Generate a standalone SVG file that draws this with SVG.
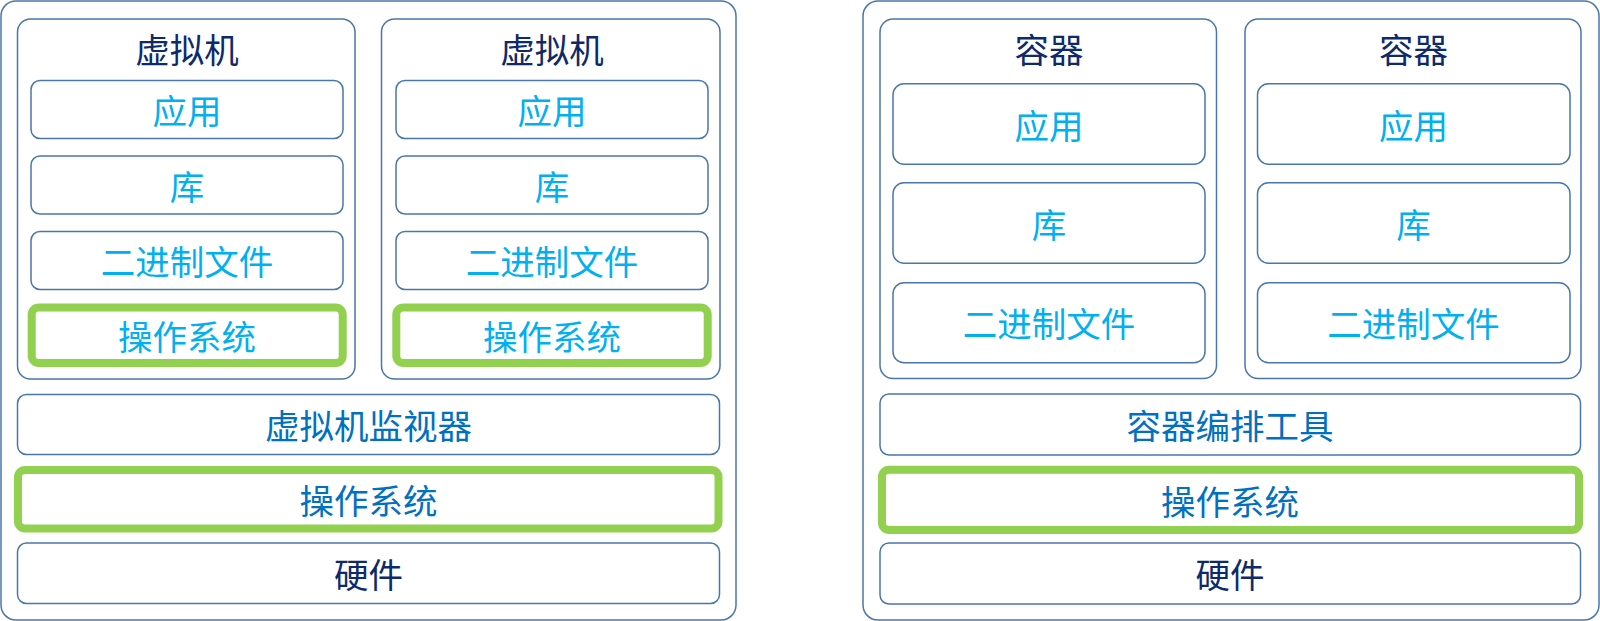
<svg xmlns="http://www.w3.org/2000/svg" width="1600" height="621" viewBox="0 0 1600 621">
<style>
.box{fill:#fff;stroke:#4a77aa;stroke-width:1.5}
.os{fill:#fff;stroke:#92d050;stroke-width:8}
text{font-family:"Noto Sans CJK SC","Noto Sans",sans-serif;font-size:34.5px;text-anchor:middle}
.t{fill:#0d2a6b}
.c{fill:#00b0f0}
.b{fill:#0070c0}
</style>
<rect width="1600" height="621" fill="#fff"/>
<g id="vm-side">
<rect class="box" x="1" y="1" width="735" height="619" rx="15"/>
</g>
<g id="vm1">
<rect class="box" x="17.5" y="19" width="337.5" height="360" rx="13"/>
<text class="t" x="187" y="63">虚拟机</text>
<g id="vm1-app"><rect class="box" x="31" y="80.5" width="312" height="58" rx="9"/><text class="c" x="187" y="124">应用</text></g>
<g id="vm1-lib"><rect class="box" x="31" y="156" width="312" height="58" rx="9"/><text class="c" x="187" y="199.5">库</text></g>
<g id="vm1-bin"><rect class="box" x="31" y="231.5" width="312" height="58" rx="9"/><text class="c" x="187" y="275">二进制文件</text></g>
<g id="vm1-os"><rect class="os" x="31.7" y="307.5" width="311" height="55.5" rx="7"/><text class="c" x="187" y="349.5">操作系统</text></g>
</g>
<g id="vm2">
<rect class="box" x="381.5" y="19" width="338.5" height="360" rx="13"/>
<text class="t" x="552" y="63">虚拟机</text>
<g id="vm2-app"><rect class="box" x="396" y="80.5" width="312" height="58" rx="9"/><text class="c" x="552" y="124">应用</text></g>
<g id="vm2-lib"><rect class="box" x="396" y="156" width="312" height="58" rx="9"/><text class="c" x="552" y="199.5">库</text></g>
<g id="vm2-bin"><rect class="box" x="396" y="231.5" width="312" height="58" rx="9"/><text class="c" x="552" y="275">二进制文件</text></g>
<g id="vm2-os"><rect class="os" x="396.3" y="307.5" width="311.4" height="55.5" rx="7"/><text class="c" x="552" y="349.5">操作系统</text></g>
</g>
<g id="hypervisor">
<rect class="box" x="17.5" y="394.5" width="702" height="60" rx="9"/>
<text class="b" x="368.5" y="439">虚拟机监视器</text>
</g>
<g id="vm-host-os">
<rect class="os" x="18" y="470" width="700.5" height="58.5" rx="7"/>
<text class="b" x="368.5" y="513.5">操作系统</text>
</g>
<g id="vm-hardware">
<rect class="box" x="17.5" y="543" width="702" height="60.5" rx="9"/>
<text class="t" x="368.5" y="588">硬件</text>
</g>

<g id="container-side">
<rect class="box" x="863" y="1" width="736" height="619" rx="15"/>
</g>
<g id="c1">
<rect class="box" x="880" y="19" width="336.5" height="359.5" rx="13"/>
<text class="t" x="1049" y="63">容器</text>
<g id="c1-app"><rect class="box" x="893" y="83.7" width="312" height="80.6" rx="11"/><text class="c" x="1049" y="138.5">应用</text></g>
<g id="c1-lib"><rect class="box" x="893" y="182.7" width="312" height="80.6" rx="11"/><text class="c" x="1049" y="237.5">库</text></g>
<g id="c1-bin"><rect class="box" x="893" y="282.7" width="312" height="80" rx="11"/><text class="c" x="1049" y="337">二进制文件</text></g>
</g>
<g id="c2">
<rect class="box" x="1245" y="19" width="336" height="359.5" rx="13"/>
<text class="t" x="1413.5" y="63">容器</text>
<g id="c2-app"><rect class="box" x="1257.5" y="83.7" width="312.5" height="80.6" rx="11"/><text class="c" x="1413.5" y="138.5">应用</text></g>
<g id="c2-lib"><rect class="box" x="1257.5" y="182.7" width="312.5" height="80.6" rx="11"/><text class="c" x="1413.5" y="237.5">库</text></g>
<g id="c2-bin"><rect class="box" x="1257.5" y="282.7" width="312.5" height="80" rx="11"/><text class="c" x="1413.5" y="337">二进制文件</text></g>
</g>
<g id="orchestrator">
<rect class="box" x="880" y="394" width="700.5" height="61" rx="9"/>
<text class="b" x="1230" y="439">容器编排工具</text>
</g>
<g id="c-host-os">
<rect class="os" x="882" y="469.7" width="697" height="60.3" rx="7"/>
<text class="b" x="1230" y="514.5">操作系统</text>
</g>
<g id="c-hardware">
<rect class="box" x="880" y="543" width="700.5" height="61" rx="9"/>
<text class="t" x="1230" y="588">硬件</text>
</g>
<g id="connectors"/>
</svg>
